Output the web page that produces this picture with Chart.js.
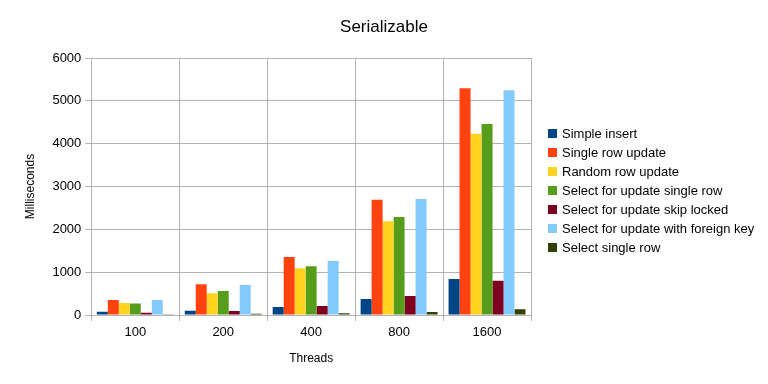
<!DOCTYPE html>
<html>
<head>
<meta charset="utf-8">
<script src="https://cdn.jsdelivr.net/npm/chart.js@4"></script>
<style>
  html, body { margin: 0; padding: 0; background: #ffffff; }
  #wrap { position: relative; width: 768px; height: 384px; }
  #title {
    position: absolute; left: 0; top: 17px; width: 768px; height: 20px; line-height: 20px;
    text-align: center;
    font-family: "Liberation Sans", Arial, sans-serif; font-size: 17px; color: #000;
  }
  #legend {
    position: absolute; left: 548px; top: 124px;
    margin: 0; padding: 0; list-style: none;
    font-family: "Liberation Sans", Arial, sans-serif; font-size: 13px; color: #000;
  }
  #legend li { height: 19px; line-height: 19px; white-space: nowrap; display: flex; align-items: center; }
  #legend span.box { display: inline-block; width: 9px; height: 9px; margin-right: 5px; }
</style>
</head>
<body>
<div id="wrap">
  <canvas id="myChart" width="768" height="384"></canvas>
  <div id="title">Serializable</div>
  <ul id="legend"></ul>
</div>
<script>
const threads = ["100", "200", "400", "800", "1600"];

const simpleInsert = [75, 100, 187, 373, 840];
const singleRowUpdate = [350, 720, 1354, 2690, 5293];
const randomRowUpdate = [280, 510, 1090, 2190, 4233];
const selectForUpdateSingleRow = [270, 560, 1137, 2290, 4460];
const selectForUpdateSkipLocked = [55, 93, 210, 443, 800];
const selectForUpdateForeignKey = [350, 700, 1260, 2710, 5246];
const selectSingleRow = [20, 30, 40, 70, 133];

const seriesNames = [
  "Simple insert",
  "Single row update",
  "Random row update",
  "Select for update single row",
  "Select for update skip locked",
  "Select for update with foreign key",
  "Select single row",
];
const seriesValues = [
  simpleInsert,
  singleRowUpdate,
  randomRowUpdate,
  selectForUpdateSingleRow,
  selectForUpdateSkipLocked,
  selectForUpdateForeignKey,
  selectSingleRow,
];
const colors = ["#004586", "#ff420e", "#ffd320", "#579d1c", "#7e0021", "#83caff", "#314004"];

const yTicks = [0, 1000, 2000, 3000, 4000, 5000, 6000];

const font = "'Liberation Sans', Arial, sans-serif";
const gridColor = "#b3b3b3";

const canvasChart = document.getElementById("myChart").getContext("2d");
const legendList = document.getElementById("legend");

function renderLegend() {
  seriesNames.forEach((name, i) => {
    const li = document.createElement("li");
    const box = document.createElement("span");
    box.className = "box";
    box.style.background = colors[i];
    li.appendChild(box);
    li.appendChild(document.createTextNode(name));
    legendList.appendChild(li);
  });
}

const myChart = new Chart(canvasChart, {
  type: "bar",
  data: {
    labels: threads,
    datasets: seriesNames.map((name, i) => ({
      label: name,
      data: seriesValues[i],
      backgroundColor: colors[i],
      borderWidth: 0,
      categoryPercentage: 0.875,
      barPercentage: 1,
    })),
  },
  options: {
    responsive: false,
    animation: false,
    layout: { padding: { top: 58, right: 237, left: 23, bottom: 18 } },
    plugins: {
      title: { display: false },
      legend: { display: false },
      tooltip: { enabled: false },
    },
    scales: {
      x: {
        grid: { color: gridColor, tickLength: 6, offset: true },
        border: { color: gridColor },
        ticks: { color: "#000000", font: { family: font, size: 13 }, padding: 4 },
        title: {
          display: true,
          text: "Threads",
          color: "#000000",
          font: { family: font, size: 12 },
          padding: { top: 7, bottom: 0 },
        },
      },
      y: {
        min: 0,
        max: 6000,
        afterBuildTicks: (axis) => {
          axis.ticks = yTicks.map((v) => ({ value: v }));
        },
        grid: { color: gridColor, tickLength: 6 },
        border: { color: gridColor },
        ticks: {
          color: "#000000",
          font: { family: font, size: 13 },
          padding: 4,
          callback: (value) => String(value),
        },
        title: {
          display: true,
          text: "Milliseconds",
          color: "#000000",
          font: { family: font, size: 12 },
          padding: { top: 0, bottom: 11 },
        },
      },
    },
  },
});

renderLegend();
</script>
</body>
</html>
